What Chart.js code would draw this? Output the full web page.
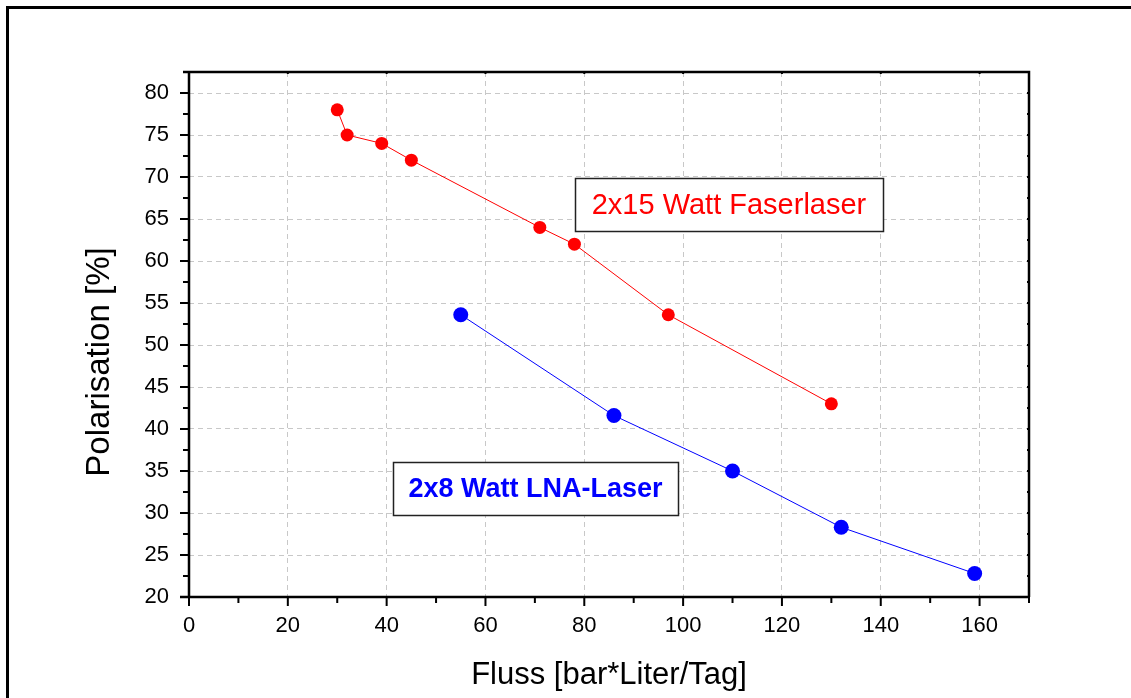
<!DOCTYPE html>
<html><head><meta charset="utf-8">
<script src="https://cdn.jsdelivr.net/npm/chart.js@4/dist/chart.umd.min.js"></script>
<style>html,body{margin:0;padding:0;background:#fff}#wrap{width:1131px;height:698px}</style>
</head><body><div id="wrap"><canvas id="c" width="1131" height="698"></canvas></div>
<script>
const redX = [30, 32, 39, 45, 71, 78, 97, 130];
const redY = [78, 75, 74, 72, 64, 62, 53.6, 43];
const blueX = [55, 86, 110, 132, 159];
const blueY = [53.6, 41.6, 35, 28.3, 22.8];
const xTicks = [0, 20, 40, 60, 80, 100, 120, 140, 160];
const xMinor = [10, 30, 50, 70, 90, 110, 130, 150, 170];
const yTicks = [20, 25, 30, 35, 40, 45, 50, 55, 60, 65, 70, 75, 80];
const yMinor = [22.5, 27.5, 32.5, 37.5, 42.5, 47.5, 52.5, 57.5, 62.5, 67.5, 72.5, 77.5, 82.5];
const xTitle = 'Fluss [bar*Liter/Tag]';
const yTitle = 'Polarisation [%]';
const redLabel = '2x15 Watt Faserlaser';
const blueLabel = '2x8 Watt LNA-Laser';

const FONT = 'Arial, "Liberation Sans", sans-serif';

const decor = {
  id: 'decor',
  afterDraw(chart) {
    const ctx = chart.ctx, a = chart.chartArea;
    const xs = chart.scales.x, ys = chart.scales.y;
    ctx.save();
    // outer frame
    ctx.strokeStyle = '#000'; ctx.lineWidth = 3;
    ctx.strokeRect(7.5, 7.5, 1140, 710);
    // axis box
    ctx.lineWidth = 2.5;
    ctx.beginPath();
    ctx.moveTo(a.left - 6, a.top); ctx.lineTo(a.right, a.top); ctx.lineTo(a.right, a.bottom);
    ctx.moveTo(a.left - 9, a.bottom); ctx.lineTo(a.right + 1, a.bottom);
    ctx.moveTo(a.left, a.bottom + 1); ctx.lineTo(a.left, a.top - 1);
    ctx.stroke();
    // ticks
    ctx.lineWidth = 2;
    ctx.beginPath();
    xTicks.forEach(v => { const p = xs.getPixelForValue(v); ctx.moveTo(p, a.bottom); ctx.lineTo(p, a.bottom + 9); ctx.moveTo(p, a.top); ctx.lineTo(p, a.top + 2); });
    xMinor.forEach(v => { const p = xs.getPixelForValue(v); ctx.moveTo(p, a.bottom); ctx.lineTo(p, a.bottom + 6); });
    yTicks.forEach(v => { const p = ys.getPixelForValue(v); ctx.moveTo(a.left, p); ctx.lineTo(a.left - 9, p); ctx.moveTo(a.right, p); ctx.lineTo(a.right - 2, p); });
    yMinor.forEach(v => { const p = ys.getPixelForValue(v); ctx.moveTo(a.left, p); ctx.lineTo(a.left - 6, p); ctx.moveTo(a.right, p); ctx.lineTo(a.right - 2, p); });
    ctx.stroke();
    // titles
    ctx.fillStyle = '#000';
    ctx.font = '31px ' + FONT;
    ctx.textAlign = 'center'; ctx.textBaseline = 'alphabetic';
    ctx.fillText(xTitle, (a.left + a.right) / 2, 684);
    ctx.save();
    ctx.font = '33px ' + FONT;
    ctx.translate(109, 362); ctx.rotate(-Math.PI / 2);
    ctx.fillText(yTitle, 0, 0);
    ctx.restore();
    // label boxes
    function box(x, y, w, h, text, color, font) {
      ctx.fillStyle = '#fff'; ctx.fillRect(x, y, w, h);
      ctx.strokeStyle = '#222'; ctx.lineWidth = 1.5; ctx.strokeRect(x + 0.5, y + 0.5, w, h);
      ctx.fillStyle = color; ctx.font = font;
      ctx.textAlign = 'center'; ctx.textBaseline = 'middle';
      ctx.fillText(text, x + w / 2, y + h / 2 + 1);
    }
    box(575, 178, 308, 53, redLabel, '#ff0000', '29px ' + FONT);
    box(393, 462, 285, 53, blueLabel, '#0000ff', 'bold 27px ' + FONT);
    ctx.restore();
  }
};

new Chart(document.getElementById('c'), {
  type: 'scatter',
  data: {
    datasets: [
      { data: redX.map((x, i) => ({ x, y: redY[i] })), showLine: true, borderColor: '#ff0000', backgroundColor: '#ff0000', borderWidth: 1, pointRadius: 6.5, pointHoverRadius: 6.5, pointBorderWidth: 0 },
      { data: blueX.map((x, i) => ({ x, y: blueY[i] })), showLine: true, borderColor: '#0000ff', backgroundColor: '#0000ff', borderWidth: 1, pointRadius: 7.5, pointHoverRadius: 7.5, pointBorderWidth: 0 }
    ]
  },
  options: {
    responsive: false, animation: false,
    layout: { padding: { top: 72, right: 102, left: 0, bottom: 0 } },
    plugins: { legend: { display: false }, tooltip: { enabled: false } },
    scales: {
      x: {
        type: 'linear', min: 0, max: 170,
        afterBuildTicks: s => { s.ticks = xTicks.map(v => ({ value: v })); },
        afterFit: s => { s.height = 101; },
        grid: { color: '#c8c8c8', drawTicks: false, lineWidth: 1 },
        border: { display: false, dash: [5, 4] },
        ticks: { color: '#000', font: { family: FONT, size: 22 }, padding: 16, maxRotation: 0 }
      },
      y: {
        type: 'linear', min: 20, max: 82.5,
        afterBuildTicks: s => { s.ticks = yTicks.map(v => ({ value: v })); },
        afterFit: s => { s.width = 189; },
        grid: { color: '#c8c8c8', drawTicks: false, lineWidth: 1 },
        border: { display: false, dash: [5, 4] },
        ticks: { color: '#000', font: { family: FONT, size: 22 }, padding: 20 }
      }
    }
  },
  plugins: [decor]
});
</script></body></html>
